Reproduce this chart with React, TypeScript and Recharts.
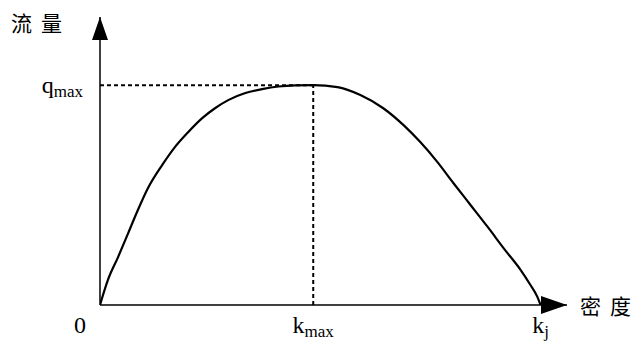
import { Line, LineChart, ReferenceDot, ReferenceLine, XAxis, YAxis } from "recharts";

// 密度 k (0 .. kj = 100) and 流量 q (0 .. qmax = 100)
const density = [0, 1.8, 4.1, 6.4, 8.6, 10.9, 14.1, 17, 20, 23.2, 26.1, 29.1, 33, 36.8, 40.5, 44.3, 48.4, 53.9, 59.1, 64.3, 68.9, 72.7, 76.6, 80.2, 84.1, 88, 91.6, 95.5, 97.7, 99.3, 100];
const flow = [0, 11.4, 21.8, 32.7, 43.2, 53.2, 63.6, 71.8, 78.6, 85, 89.5, 93.2, 96.4, 98.2, 99.4, 99.9, 100, 99.1, 95.5, 89.5, 81.8, 74.1, 65, 55.5, 45.5, 35.5, 25.9, 15.9, 9.1, 3.6, 0];

const K_MAX = 48.4;
const K_J = 100;
const Q_MAX = 100;
const X_END = 106;
const Y_END = 131;

const xTicks = [0, K_MAX, K_J];
const xTickMain = ["0", "k", "k"];
const xTickSub = ["", "max", "j"];

const serif = "'Liberation Serif', 'Times New Roman', serif";
const cjk = "'Noto Sans CJK SC', 'Noto Sans CJK TC', sans-serif";

const chartData = density.map((k, i) => ({ k, q: flow[i] }));

function XTick(props: any) {
  const { x, y, index } = props;
  const main = xTickMain[index];
  const sub = xTickSub[index];
  const dx = index === 0 ? -20 : 0;
  return (
    <text x={x + dx} y={y + 28} textAnchor="middle" fontFamily={serif} fill="#000">
      <tspan fontSize={24}>{main}</tspan>
      {sub && (
        <tspan fontSize={17} dy={4}>
          {sub}
        </tspan>
      )}
    </text>
  );
}

function YTick(props: any) {
  const { x, y } = props;
  return (
    <text x={x - 17} y={y + 8} textAnchor="end" fontFamily={serif} fill="#000">
      <tspan fontSize={24}>q</tspan>
      <tspan fontSize={17} dy={4}>max</tspan>
    </text>
  );
}

function UpArrow(props: any) {
  const { cx, cy } = props;
  return <polygon points={`${cx},${cy} ${cx - 8},${cy + 23} ${cx + 8},${cy + 23}`} fill="#000" />;
}

function RightArrow(props: any) {
  const { cx, cy } = props;
  return <polygon points={`${cx},${cy} ${cx - 26},${cy - 9} ${cx - 26},${cy + 9}`} fill="#000" />;
}

export default function App() {
  return (
    <div style={{ position: "absolute", left: 0, top: 0, width: 633, height: 347, background: "#fff" }}>
      <LineChart width={633} height={347} data={chartData} margin={{ top: 17, right: 66, bottom: 12, left: 0 }}>
        <XAxis
          type="number"
          dataKey="k"
          domain={[0, X_END]}
          ticks={xTicks}
          tick={<XTick />}
          tickLine={false}
          tickSize={0}
          tickMargin={0}
          height={30}
          axisLine={{ stroke: "#000", strokeWidth: 1.5 }}
          allowDataOverflow
          interval={0}
        />
        <YAxis
          type="number"
          domain={[0, Y_END]}
          ticks={[Q_MAX]}
          tick={<YTick />}
          tickLine={false}
          tickSize={0}
          tickMargin={0}
          width={100}
          axisLine={{ stroke: "#000", strokeWidth: 1.5 }}
          allowDataOverflow
        />
        <ReferenceLine
          segment={[{ x: 0, y: Q_MAX }, { x: K_MAX, y: Q_MAX }]}
          stroke="#000"
          strokeWidth={2}
          strokeDasharray="4 3"
        />
        <ReferenceLine
          segment={[{ x: K_MAX, y: 0 }, { x: K_MAX, y: Q_MAX }]}
          stroke="#000"
          strokeWidth={2}
          strokeDasharray="4 3"
        />
        <Line
          type="monotone"
          dataKey="q"
          stroke="#000"
          strokeWidth={2.2}
          dot={false}
          activeDot={false}
          isAnimationActive={false}
        />
        <ReferenceDot x={0} y={Y_END} r={0} shape={<UpArrow />} />
        <ReferenceDot x={X_END} y={0} r={0} shape={<RightArrow />} />
      </LineChart>
      <div style={{ position: "absolute", left: 11, top: 7, fontFamily: cjk, fontSize: 21, whiteSpace: "nowrap", color: "#000" }}>
        <span style={{ marginRight: 9 }}>流</span>
        <span>量</span>
      </div>
      <div style={{ position: "absolute", left: 580, top: 290, fontFamily: cjk, fontSize: 21, whiteSpace: "nowrap", color: "#000" }}>
        <span style={{ marginRight: 9 }}>密</span>
        <span>度</span>
      </div>
    </div>
  );
}
